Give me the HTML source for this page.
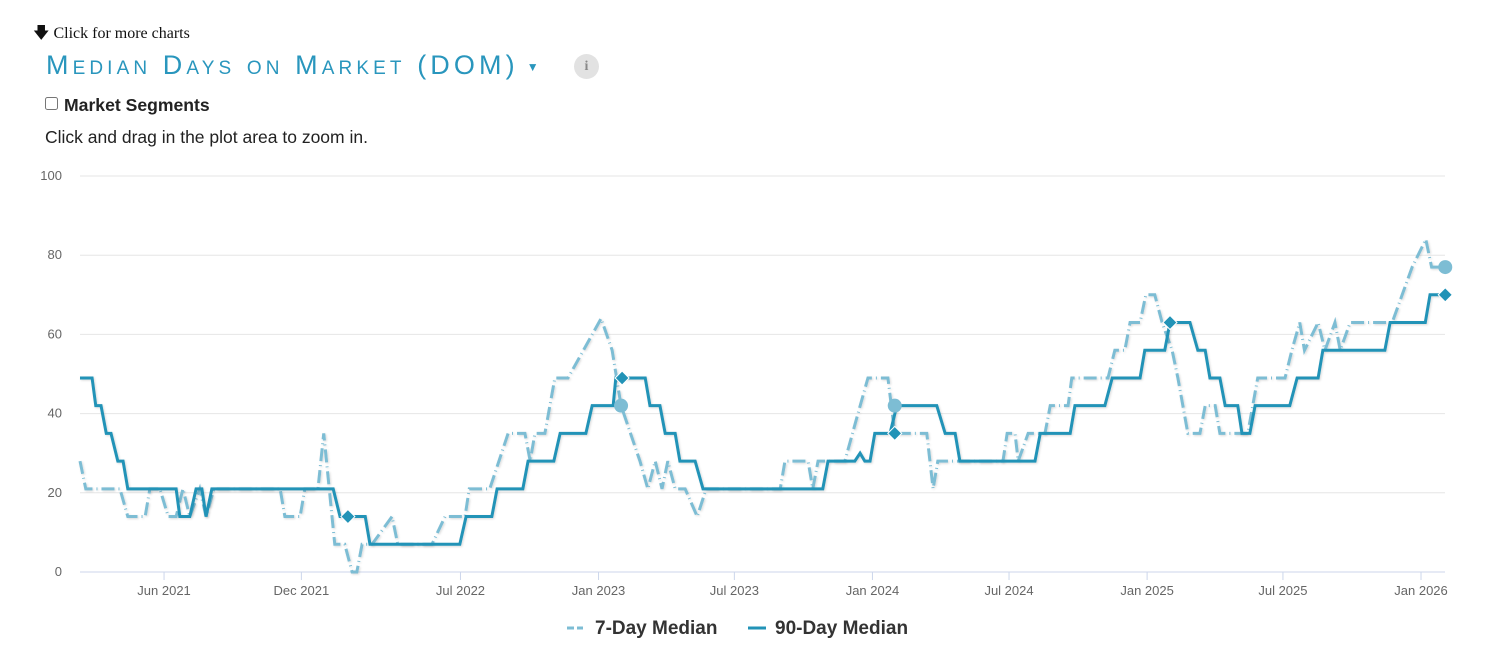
<!DOCTYPE html>
<html><head><meta charset="utf-8">
<style>
body{margin:0;width:1500px;height:660px;background:#fff;font-family:"Liberation Sans",sans-serif;position:relative;overflow:hidden}
.abs{position:absolute}
</style></head><body>
<div class="abs" style="left:33px;top:22px;font-family:'Liberation Serif',serif;font-size:16px;color:#111">&#129095; Click for more charts</div>
<div class="abs" style="left:46px;top:50px;font-size:27px;font-variant:small-caps;color:#2996bd;letter-spacing:4.1px;white-space:nowrap">Median Days on Market (DOM)<span style="font-size:12px;vertical-align:middle;margin-left:8px;letter-spacing:0">&#9660;</span></div>
<div class="abs" style="left:574px;top:54px;width:25px;height:25px;border-radius:50%;background:#e2e2e2;color:#888;font-family:'Liberation Serif',serif;font-size:14px;font-weight:bold;text-align:center;line-height:25px">i</div>
<div class="abs" style="left:45px;top:95px;font-size:17.6px;font-weight:bold;color:#222"><input type="checkbox" style="margin:0 6px 0 0;width:13px;height:13px;vertical-align:1px">Market Segments</div>
<div class="abs" style="left:45px;top:127px;font-size:17.5px;color:#222">Click and drag in the plot area to zoom in.</div>
<svg class="abs" style="left:0;top:0" width="1500" height="660">
<defs><filter id="sh" x="-5%" y="-5%" width="110%" height="110%"><feDropShadow dx="1" dy="1" stdDeviation="1" flood-opacity="0.15"/></filter></defs>
<g id="grid"></g><g id="axes"></g><g id="series"></g><g id="marks"></g>
<g>
<line x1="567" y1="628" x2="583" y2="628" stroke="#7dbdd4" stroke-width="3" stroke-dasharray="7 3"/>
<text x="595" y="634" font-size="19" font-weight="bold" fill="#333">7-Day Median</text>
<line x1="748" y1="628" x2="766" y2="628" stroke="#2293b7" stroke-width="3"/>
<text x="775" y="634" font-size="19" font-weight="bold" fill="#333">90-Day Median</text>
</g>
</svg>
<script>
const startDate = "2021-02-09";
const yTicks = [0,20,40,60,80,100];
const xTickDates = ["2021-06-01","2021-12-01","2022-07-01","2023-01-01","2023-07-01","2024-01-01","2024-07-01","2025-01-01","2025-07-01","2026-01-01"];
const xTickLabels = ["Jun 2021","Dec 2021","Jul 2022","Jan 2023","Jul 2023","Jan 2024","Jul 2024","Jan 2025","Jul 2025","Jan 2026"];
const weeks90 = [0,2.3,3.0,4.0,5.0,5.9,7.2,8.2,9.1,18.3,19.0,20.9,22.1,23.2,24.0,25.1,48.2,49.5,54.3,55.2,72.3,73.5,78.4,79.4,84.3,85.3,90.2,91.4,96.3,97.5,101.5,102.0,107.6,108.5,110.4,111.4,113.3,114.2,117.1,118.6,141.4,142.4,147.5,148.5,149.4,150.4,151.3,154.2,155.5,163.1,164.7,166.6,167.5,181.8,182.8,188.5,189.4,195.1,196.5,201.8,202.7,206.5,207.5,211.3,212.8,214.2,215.1,217.0,218.0,220.4,221.2,222.7,223.7,230.3,231.7,235.7,236.6,248.4,249.4,256.1,257.0,259.9];
const values90 = [49,49,42,42,35,35,28,28,21,21,14,14,21,21,14,21,21,14,14,7,7,14,14,21,21,28,28,35,35,42,42,49,49,42,42,35,35,28,28,21,21,28,28,30,28,28,35,35,42,42,35,35,28,28,35,35,42,42,49,49,56,56,63,63,56,56,49,49,42,42,35,35,42,42,49,49,56,56,63,63,70,70];
const weeks7 = [0,1.1,7.6,9.1,12.4,13.3,15.2,16.8,18.3,19.6,20.9,22.8,24.0,25.5,38.1,39.0,41.9,42.8,45.3,46.4,48.5,50.4,51.8,52.7,53.7,55.6,59.4,60.5,67.0,69.5,73.3,74.1,78.0,81.5,84.7,85.7,86.6,88.5,90.4,92.9,99.2,101.3,103.0,106.6,108.1,109.5,110.8,111.9,113.3,115.2,117.5,119.2,133.3,134.2,138.6,139.5,140.5,145.6,148.1,150.0,153.8,155.1,161.2,162.4,163.3,175.7,176.5,178.0,178.6,180.5,183.7,184.7,188.1,188.8,195.7,197.0,198.9,199.9,201.8,202.9,204.6,206.0,207.9,209.0,210.9,213.2,214.2,216.1,217.0,222.3,224.2,229.4,230.7,232.2,233.1,235.7,237.0,238.9,239.9,241.8,249.8,251.7,253.6,256.2,257.3,259.9];
const values7 = [28,21,21,14,14,21,21,14,14,21,14,21,14,21,21,14,14,21,21,35,7,7,0,0,7,7,14,7,7,14,14,21,21,35,35,28,35,35,49,49,64,56,42,28,21,28,21,28,21,21,14,21,21,28,28,21,28,28,40,49,49,35,35,21,28,28,35,35,28,35,35,42,42,49,49,56,56,63,63,70,70,63,56,49,35,35,42,42,35,35,49,49,56,63,56,63,56,63,56,63,63,70,77,84,77,77];
const circleWeeks = [103.0,155.1,259.9];
const circleValues = [42,42,77];
const diamondWeeks = [51.0,103.2,155.1,207.5,259.9];
const diamondValues = [14,49,35,63,70];

const X0=80, PXW=5.253, Y0=572, PXU=3.96, XR=1445;
const xs = w => X0 + w*PXW;
const ys = v => Y0 - v*PXU;
const wk = d => (Date.parse(d)-Date.parse(startDate))/(7*864e5);
const NS="http://www.w3.org/2000/svg";
function mk(tag, parent, attrs){const e=document.createElementNS(NS,tag);for(const k in attrs)e.setAttribute(k,attrs[k]);document.getElementById(parent).appendChild(e);return e;}

yTicks.forEach(v=>{
  const l=mk('line','grid',{x1:X0,x2:XR,y1:ys(v),y2:ys(v),stroke:v===0?'#ccd6eb':'#e6e6e6','stroke-width':1});
  
  
  const t=mk('text','axes',{x:62,y:ys(v)+4,'text-anchor':'end','font-size':13,fill:'#666'});
  t.textContent=v;
  
  
});
xTickDates.forEach((d,i)=>{
  const x=xs(wk(d));
  const l=mk('line','axes',{x1:x,x2:x,y1:Y0,y2:Y0+8,stroke:'#ccd6eb'});
  
  
  const t=mk('text','axes',{x:x,y:595,'text-anchor':'middle','font-size':13,fill:'#666'});
  t.textContent=xTickLabels[i];
  
  
});
const p7=mk('polyline','series',{points:weeks7.map((w,i)=>xs(w)+','+ys(values7[i])).join(' '),fill:'none',stroke:'#7dbdd4','stroke-width':3,'stroke-dasharray':'13 4 1 4',filter:'url(#sh)'});


const p90=mk('polyline','series',{points:weeks90.map((w,i)=>xs(w)+','+ys(values90[i])).join(' '),fill:'none',stroke:'#2293b7','stroke-width':3,'stroke-linejoin':'miter',filter:'url(#sh)'});


circleWeeks.forEach((w,i)=>{
  const c=mk('circle','marks',{cx:xs(w),cy:ys(circleValues[i]),r:7,fill:'#7dbdd4'});
  
  
});
diamondWeeks.forEach((w,i)=>{
  const x=xs(w),y=ys(diamondValues[i]);
  const p=mk('polygon','marks',{points:`${x},${y-7} ${x+7},${y} ${x},${y+7} ${x-7},${y}`,fill:'#2293b7',stroke:'#fff','stroke-width':1});
  
  
});
</script>
</body></html>
